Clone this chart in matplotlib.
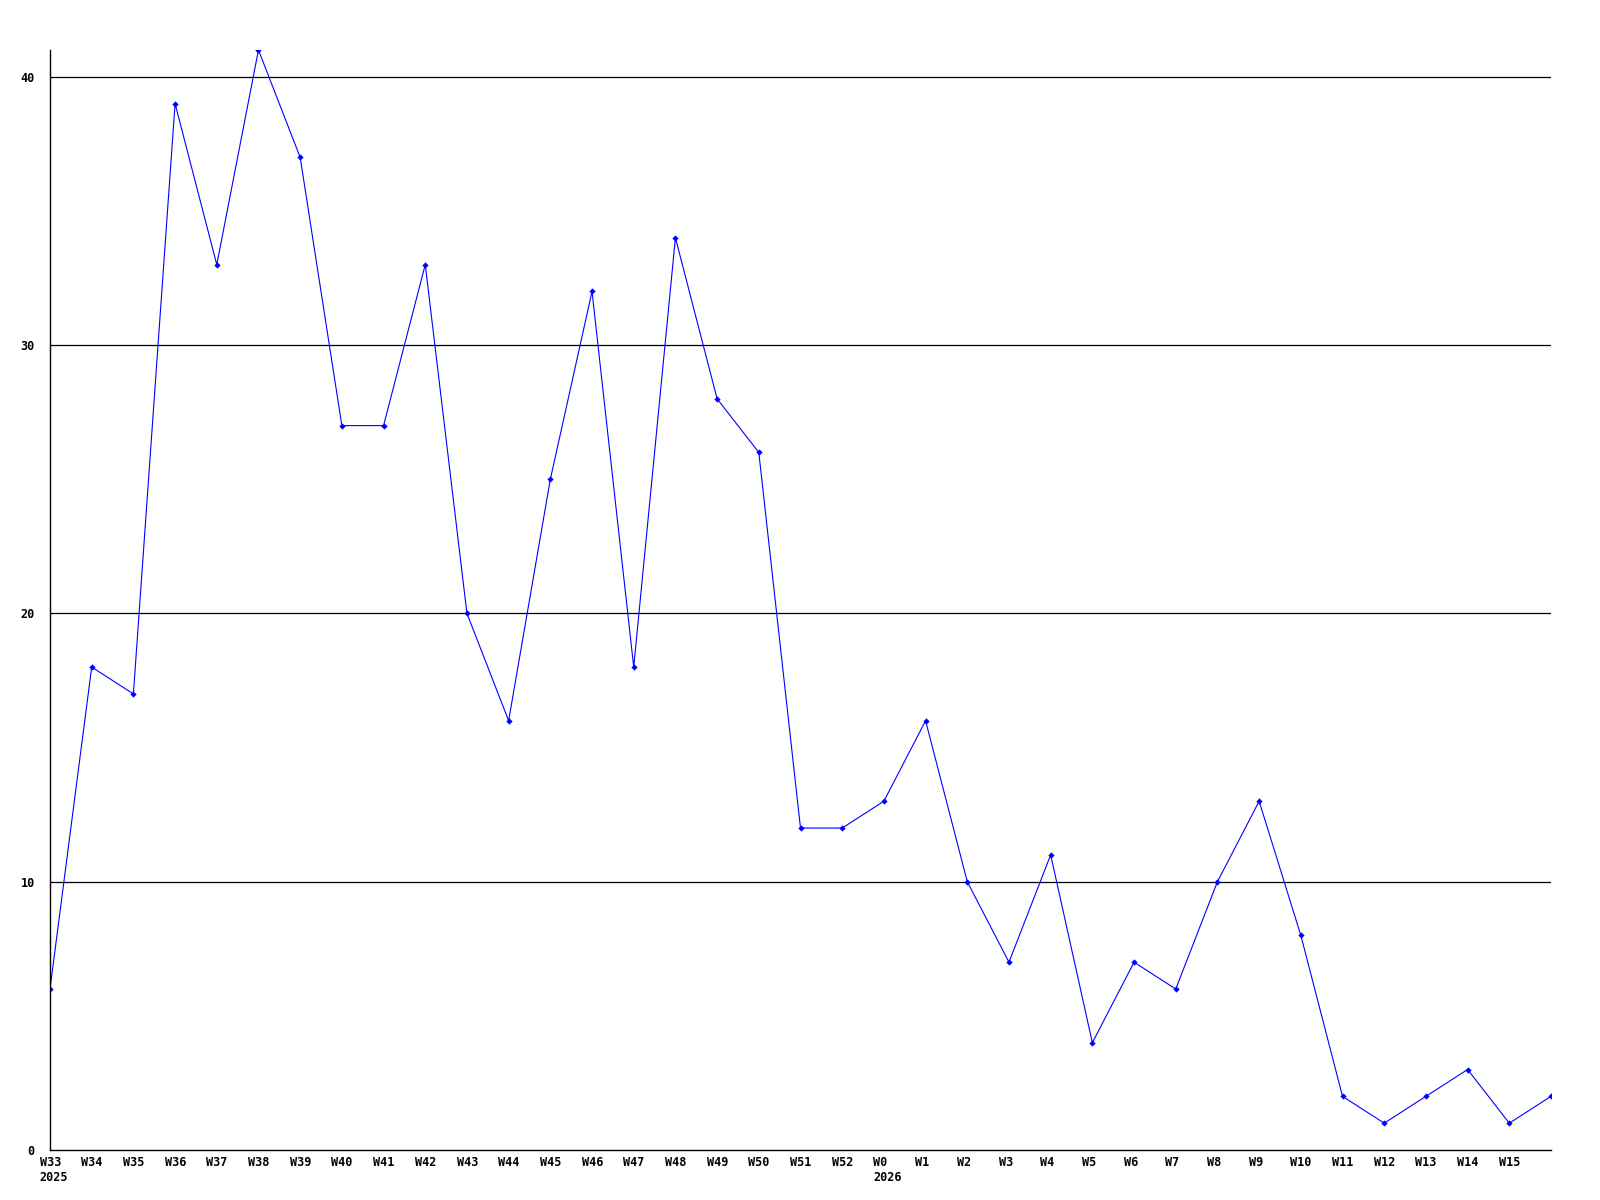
import matplotlib
matplotlib.use("Agg")
import matplotlib.pyplot as plt

# weekly counts, W33/2025 .. one week past W15/2026
week_labels = [f"W{w}" for w in range(33, 53)] + [f"W{w}" for w in range(0, 16)] + [""]
year_marks = {"W33": "2025", "W0": "2026"}
values = [6, 18, 17, 39, 33, 41, 37, 27, 27, 33, 20, 16, 25, 32, 18, 34, 28, 26,
          12, 12, 13, 16, 10, 7, 11, 4, 7, 6, 10, 13, 8, 2, 1, 2, 3, 1, 2]
y_ticks = [0, 10, 20, 30, 40]

fig = plt.figure(figsize=(16, 12), dpi=100)
ax = fig.add_axes([50 / 1600, 50 / 1200, 1501 / 1600, 1100 / 1200])

x = list(range(len(values)))
ax.plot(x, values, color="#0000ff", linewidth=0.8, marker="D", markersize=3.2,
        markeredgewidth=0)

for y in y_ticks[1:]:
    ax.axhline(y, color="black", linewidth=0.9, zorder=0)

ax.set_xlim(0, len(values) - 1)
ax.set_ylim(0, 41)

font = dict(family="DejaVu Sans Mono", weight="bold", size=8.5)

# x labels: left-aligned, starting a little left of each point
ax.set_xticks([])
for i, lab in enumerate(week_labels):
    if not lab:
        continue
    text = lab + ("\n" + year_marks[lab] if lab in year_marks else "")
    ax.annotate(text, xy=(i, 0), xycoords=("data", "axes fraction"),
                xytext=(-7.5, -4), textcoords="offset points",
                ha="left", va="top", linespacing=1.25, annotation_clip=False,
                **font)

ax.set_yticks(y_ticks)
ax.set_yticklabels([str(v) for v in y_ticks], **font)
ax.tick_params(axis="y", length=0, pad=11)

ax.spines[["top", "right"]].set_visible(False)
for s in ("left", "bottom"):
    ax.spines[s].set_linewidth(1.0)
    ax.spines[s].set_color("black")

fig.savefig("out.png", dpi=100)
